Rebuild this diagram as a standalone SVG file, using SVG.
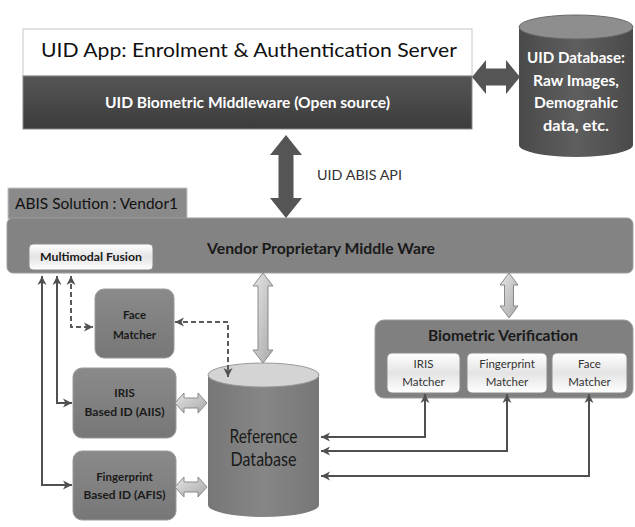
<svg xmlns="http://www.w3.org/2000/svg" width="635" height="527" viewBox="0 0 635 527">
<style>
.t{font-family:Lato,"Liberation Sans",sans-serif}
.box{fill:url(#gBox);stroke:#9a9a9a;stroke-width:1}
.wbox{fill:url(#gWhite);stroke:#8a8a8a;stroke-width:1}
.lbl{font-family:Lato,"Liberation Sans",sans-serif;font-weight:bold;font-size:11.5px;fill:#1a1a1a;text-anchor:middle}
.sub{font-family:Lato,"Liberation Sans",sans-serif;font-size:11.5px;fill:#333;text-anchor:middle}
.ln{fill:none;stroke:#505050;stroke-width:2}
.dash{fill:none;stroke:#5a5a5a;stroke-width:2;stroke-dasharray:5 3}
.la{fill:url(#gLight);stroke:#8a8a8a;stroke-width:1}
</style>
<defs>
<linearGradient id="gBox" x1="0" y1="0" x2="0" y2="1"><stop offset="0" stop-color="#8a8a8a"/><stop offset="1" stop-color="#777"/></linearGradient>
<linearGradient id="gWhite" x1="0" y1="0" x2="0" y2="1"><stop offset="0" stop-color="#fff"/><stop offset="0.5" stop-color="#e4e4e4"/><stop offset="1" stop-color="#fff"/></linearGradient>
<linearGradient id="gDark" x1="0" y1="0" x2="0" y2="1"><stop offset="0" stop-color="#555"/><stop offset="1" stop-color="#3c3c3c"/></linearGradient>
<linearGradient id="gCyl" x1="0" y1="0" x2="1" y2="0"><stop offset="0" stop-color="#777"/><stop offset="0.5" stop-color="#868686"/><stop offset="1" stop-color="#777"/></linearGradient>
<linearGradient id="gCylD" x1="0" y1="0" x2="1" y2="0"><stop offset="0" stop-color="#4a4a4a"/><stop offset="0.5" stop-color="#5e5e5e"/><stop offset="1" stop-color="#4a4a4a"/></linearGradient>
<linearGradient id="gLight" x1="0" y1="0" x2="1" y2="1"><stop offset="0" stop-color="#e6e6e6"/><stop offset="1" stop-color="#a8a8a8"/></linearGradient>
<marker id="ah" markerUnits="userSpaceOnUse" markerWidth="10" markerHeight="10" refX="9" refY="5" orient="auto-start-reverse">
<path d="M0,0.5 L9,5 L0,9.5 L2.5,5 z" fill="#505050"/>
</marker>
</defs>

<g id="uid-app">
<rect x="23" y="29" width="449" height="47" fill="#fff" stroke="#c8c8c8"/>
<rect x="23" y="76" width="449" height="53" fill="url(#gDark)" stroke="#888"/>
<text class="t" x="41" y="57" font-size="20" fill="#111" textLength="416" lengthAdjust="spacingAndGlyphs">UID  App: Enrolment &amp; Authentication Server</text>
<text class="t" x="247.5" y="108" font-size="15" font-weight="bold" fill="#fff" text-anchor="middle" textLength="285" lengthAdjust="spacingAndGlyphs">UID Biometric Middleware (Open source)</text>
</g>

<g id="uid-db">
<path d="M519,27 V145 A57,12 0 0 0 633,145 V27 Z" fill="url(#gCylD)"/>
<ellipse cx="576" cy="27" rx="57" ry="12" fill="#8e8e8e" stroke="#6a6a6a"/>
<g class="t" font-size="16" font-weight="bold" fill="#fff" text-anchor="middle">
<text x="576" y="63" textLength="98" lengthAdjust="spacingAndGlyphs">UID Database:</text>
<text x="576" y="86" textLength="86" lengthAdjust="spacingAndGlyphs">Raw Images,</text>
<text x="576" y="108" textLength="84" lengthAdjust="spacingAndGlyphs">Demograhic</text>
<text x="576" y="131" textLength="66" lengthAdjust="spacingAndGlyphs">data, etc.</text>
</g>
</g>

<g id="abis-tab">
<rect x="8" y="188" width="179" height="31" fill="#8a8a8a" stroke="#c4c4c4"/>
<text class="t" x="15" y="209" font-size="15" fill="#111" textLength="163" lengthAdjust="spacingAndGlyphs">ABIS Solution : Vendor1</text>
</g>

<g id="vendor-middleware">
<rect x="7" y="218" width="626" height="55" rx="6" fill="#838383" stroke="#9c9c9c"/>
<text class="t" x="321" y="254" font-size="16" font-weight="bold" fill="#1a1a1a" text-anchor="middle" textLength="228" lengthAdjust="spacingAndGlyphs">Vendor Proprietary Middle Ware</text>
</g>

<g id="multimodal-fusion">
<rect class="wbox" x="29" y="244" width="124" height="26" rx="4"/>
<text class="lbl" x="91" y="261" font-size="10.5" textLength="102" lengthAdjust="spacingAndGlyphs">Multimodal Fusion</text>
</g>

<g id="face-matcher">
<rect class="box" x="95" y="289" width="79" height="69" rx="9"/>
<text class="lbl" x="134.5" y="319">Face</text>
<text class="lbl" x="134.5" y="339">Matcher</text>
</g>

<g id="iris-id">
<rect class="box" x="73" y="368" width="103" height="70" rx="9"/>
<text class="lbl" x="124.5" y="397">IRIS</text>
<text class="lbl" x="124.5" y="416" textLength="80" lengthAdjust="spacingAndGlyphs">Based ID (AIIS)</text>
</g>

<g id="fingerprint-id">
<rect class="box" x="73" y="451" width="103" height="69" rx="9"/>
<text class="lbl" x="124.5" y="481">Fingerprint</text>
<text class="lbl" x="124.5" y="499" textLength="82" lengthAdjust="spacingAndGlyphs">Based ID (AFIS)</text>
</g>

<g id="reference-db">
<path d="M208,375 V505 A55.5,12 0 0 0 319,505 V375 Z" fill="url(#gCyl)"/>
<ellipse cx="263.5" cy="375" rx="55.5" ry="12" fill="#d4d4d4" stroke="#9a9a9a"/>
<text class="t" x="263.5" y="443" font-size="19" fill="#1a1a1a" text-anchor="middle" textLength="68" lengthAdjust="spacingAndGlyphs">Reference</text>
<text class="t" x="263.5" y="466" font-size="19" fill="#1a1a1a" text-anchor="middle" textLength="66" lengthAdjust="spacingAndGlyphs">Database</text>
</g>

<g id="biometric-verification">
<rect x="375" y="320" width="258" height="78" rx="9" fill="#808080" stroke="#9c9c9c"/>
<text class="t" x="503" y="341" font-size="16" font-weight="bold" fill="#1a1a1a" text-anchor="middle" textLength="150" lengthAdjust="spacingAndGlyphs">Biometric Verification</text>
<g id="iris-matcher">
<rect class="wbox" x="387" y="353" width="73" height="40" rx="5"/>
<text class="sub" x="423.5" y="368">IRIS</text>
<text class="sub" x="423.5" y="386">Matcher</text>
</g>
<g id="fingerprint-matcher">
<rect class="wbox" x="467" y="353" width="80" height="40" rx="5"/>
<text class="sub" x="507" y="368">Fingerprint</text>
<text class="sub" x="507" y="386">Matcher</text>
</g>
<g id="face-matcher-v">
<rect class="wbox" x="552" y="353" width="75" height="40" rx="5"/>
<text class="sub" x="589.5" y="368">Face</text>
<text class="sub" x="589.5" y="386">Matcher</text>
</g>
</g>

<g id="connectors">
<polygon points="472,77 486,60 486,68.5 506,68.5 506,60 520,77 506,94 506,85.5 486,85.5 486,94" fill="#555"/>
<polygon points="286,135 302,155 293.5,155 293.5,198 302,198 286,218 270,198 278.5,198 278.5,155 270,155" fill="#555"/>
<text class="t" x="317" y="180" font-size="13" fill="#333" textLength="85" lengthAdjust="spacingAndGlyphs">UID ABIS API</text>
<polygon class="la" points="263,273 273,286 268,286 268,350 273,350 263,363 253,350 258,350 258,286 253,286"/>
<polygon class="la" points="509,273 518,285 513.5,285 513.5,306 518,306 509,318 500,306 504.5,306 504.5,285 500,285"/>
<polygon class="la" points="175,403 184,393 184,398 198,398 198,393 207,403 198,413 198,408 184,408 184,413"/>
<polygon class="la" points="175,487 184,477 184,482 198,482 198,477 207,487 198,497 198,492 184,492 184,497"/>
<path class="ln" d="M42,276 V485 H72" marker-start="url(#ah)" marker-end="url(#ah)"/>
<path class="ln" d="M57,276 V403 H72" marker-start="url(#ah)" marker-end="url(#ah)"/>
<path class="dash" d="M71,276 V327 H93" marker-start="url(#ah)" marker-end="url(#ah)"/>
<path class="dash" d="M175,322 H228 V377" marker-start="url(#ah)" marker-end="url(#ah)"/>
<path class="ln" d="M425,394 V437 H321" marker-start="url(#ah)" marker-end="url(#ah)"/>
<path class="ln" d="M507,394 V451 H321" marker-start="url(#ah)" marker-end="url(#ah)"/>
<path class="ln" d="M589,394 V476 H321" marker-start="url(#ah)" marker-end="url(#ah)"/>
</g>
</svg>
